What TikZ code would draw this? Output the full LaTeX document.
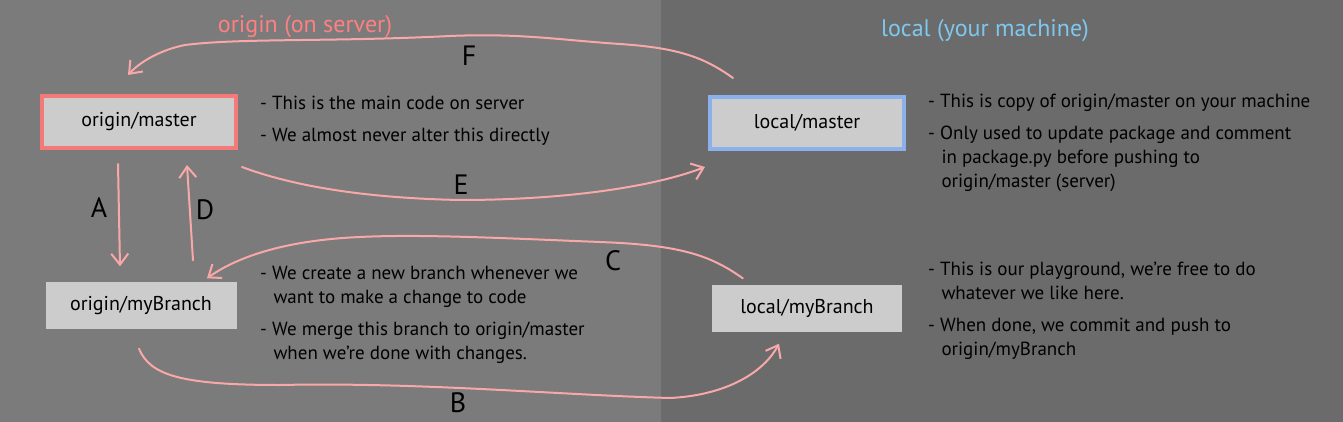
\documentclass[tikz,border=0pt]{standalone}
\usepackage{fontspec}
\setmainfont{PT Sans}
\usetikzlibrary{arrows.meta}
\definecolor{leftbg}{RGB}{123,123,123}
\definecolor{rightbg}{RGB}{107,107,107}
\definecolor{boxfill}{RGB}{204,204,204}
\definecolor{pinkline}{RGB}{248,168,168}
\definecolor{pinkborder}{RGB}{244,122,122}
\definecolor{pinktitle}{RGB}{255,128,128}
\definecolor{blueborder}{RGB}{140,176,236}
\definecolor{bluetitle}{RGB}{126,200,240}
\tikzset{
  branchbox/.style={fill=boxfill, minimum width=#1, minimum height=47pt, inner sep=0pt, font=\fontsize{20}{22}\selectfont},
  notes/.style={anchor=north west, align=left, inner sep=0pt, font=\fontsize{19}{24}\selectfont, text=black},
  flow/.style={draw=pinkline, line width=2pt, line cap=round, -{Straight Barb[length=11pt,width=17pt,line width=2pt]}},
  letter/.style={font=\fontsize{28}{30}\selectfont, text=black},
  title/.style={font=\fontsize{24}{26}\selectfont}
}
\begin{document}
\begin{tikzpicture}[x=1pt,y=-1pt]
\useasboundingbox (0,0) rectangle (1343,422);
\fill[leftbg] (0,0) rectangle (661,422);
\fill[rightbg] (661,0) rectangle (1343,422);

\node[title, text=pinktitle] (t1) at (305,27) {origin (on server)};
\node[title, text=bluetitle] (t2) at (985,31) {local (your machine)};

\node[branchbox=194pt, minimum height=52pt, draw=pinkborder, line width=4pt] (om) at (139,122) {origin/master};
\node[branchbox=194pt, minimum height=52pt, draw=blueborder, line width=4pt] (lm) at (807,123) {local/master};
\node[branchbox=191pt] (ob) at (141,305) {origin/myBranch};
\node[branchbox=190pt] (lb) at (807,308) {local/myBranch};

\node[notes] (n1) at (260,96) {- This is the main code on server\\[8pt]- We almost never alter this directly};
\node[notes] (n2) at (928,94) {- This is copy of origin/master on your machine\\[8pt]- Only used to update package and comment\\\hspace*{0.7em}in package.py before pushing to\\\hspace*{0.7em}origin/master (server)};
\node[notes] (n3) at (260,266) {- We create a new branch whenever we\\\hspace*{0.7em}want to make a change to code\\[8pt]- We merge this branch to origin/master\\\hspace*{0.7em}when we're done with changes.};
\node[notes] (n4) at (928,262) {- This is our playground, we're free to do\\\hspace*{0.7em}whatever we like here.\\[8pt]- When done, we commit and push to\\\hspace*{0.7em}origin/myBranch};

% A
\coordinate (a1) at ([xshift=-21pt,yshift=-14pt]om.south);
\coordinate (a2) at ([xshift=-21pt,yshift=15pt]ob.north);
\draw[flow] (a1) -- (a2);
\node[letter] (la) at (99,208) {A};
% D
\coordinate (d1) at ([xshift=52pt,yshift=21pt]ob.north);
\coordinate (d2) at ([xshift=48pt,yshift=-15pt]om.south);
\draw[flow] (d1) -- (d2);
\node[letter] (ld) at (205,210) {D};
% F
\coordinate (f1) at ([xshift=25pt,yshift=17pt]lm.north west);
\coordinate (f2) at ([xshift=-11pt,yshift=19pt]om.north);
\draw[flow] (f1) .. controls (705,58) and (680,48) .. (620,44)
  .. controls (560,40) and (520,33) .. (450,36)
  .. controls (330,42) and (240,38) .. (185,45)
  .. controls (160,50) and (140,62) .. (f2);
\node[letter] (lf) at (469,56) {F};
% E
\coordinate (e1) at ([xshift=4pt,yshift=-17pt]om.south east);
\coordinate (e2) at ([xshift=-3pt,yshift=-16pt]lm.south west);
\draw[flow] (e1) .. controls (290,185) and (360,198) .. (460,200)
  .. controls (560,200) and (650,188) .. (e2);
\node[letter] (le) at (461,185) {E};
% C
\coordinate (c1) at ([xshift=31pt,yshift=6pt]lb.north west);
\coordinate (c2) at ([xshift=66pt,yshift=3pt]ob.north);
\draw[flow] (c1) .. controls (710,255) and (680,245) .. (600,242)
  .. controls (500,238) and (420,234) .. (360,237)
  .. controls (290,240) and (240,255) .. (c2);
\node[letter] (lc) at (613,261) {C};
% B
\coordinate (b1) at ([xshift=-2pt,yshift=-20pt]ob.south);
\coordinate (b2) at ([xshift=-28pt,yshift=-12pt]lb.south);
\draw[flow] (b1) .. controls (150,375) and (180,385) .. (280,385)
  .. controls (420,382) and (560,395) .. (670,398)
  .. controls (730,395) and (765,370) .. (b2);
\node[letter] (lbl) at (458,403) {B};
\end{tikzpicture}
\end{document}
